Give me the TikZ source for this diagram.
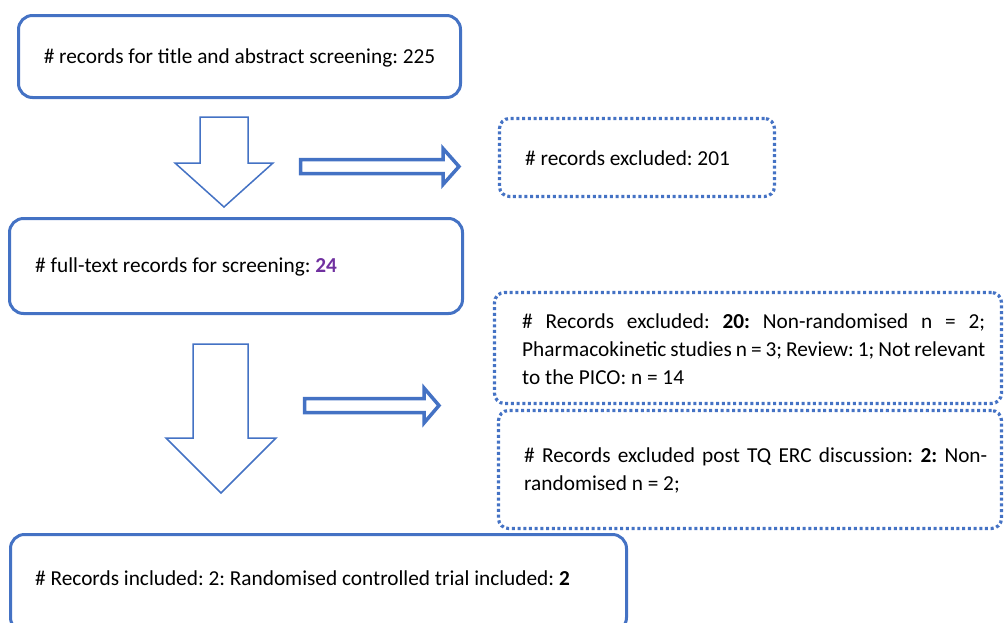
\documentclass[tikz,border=0pt]{standalone}
\usepackage{fontspec}
\setmainfont{Carlito}
\definecolor{obl}{HTML}{4472C4}
\definecolor{opur}{HTML}{7030A0}
\begin{document}
\frenchspacing
\hyphenpenalty=10000
\begin{tikzpicture}[x=1pt,y=-1pt,
 solidbox/.style={draw=obl, line width=3pt, rounded corners=14pt, inner sep=0pt},
 dotbox/.style={draw=obl, line width=3.2pt, dash pattern=on 3pt off 2.7pt, rounded corners=10pt, inner sep=0pt},
 txt/.style={font=\fontsize{21.3}{28}\selectfont, inner sep=0pt},
 thinarrow/.style={draw=obl, line width=1.5pt, fill=white, line join=miter},
 thickarrow/.style={draw=obl, line width=3.5pt, fill=white, line join=miter},
]
\useasboundingbox (0,0) rectangle (1005,622);
\clip (0,0) rectangle (1005,622);

% boxes
\node[solidbox, minimum width=442, minimum height=82] (b1) at (239.5,56.5) {};
\node[dotbox, minimum width=275, minimum height=78] (e1) at (637,157.5) {};
\node[solidbox, minimum width=453, minimum height=95] (b2) at (236,266) {};
\node[dotbox, minimum width=507, minimum height=111] (e2) at (748,348) {};
\node[dotbox, minimum width=503, minimum height=118] (e3) at (750,469.5) {};
\node[solidbox, minimum width=616, minimum height=97] (b3) at (318.5,583) {};

% texts
\node[txt, anchor=base] (t1) at (239.5,63) {\# records for title and abstract screening: 225};
\node[txt, anchor=base west] (te1) at (525,165) {\# records excluded: 201};
\node[txt, anchor=base west] (t2) at (35,272) {\# full-text records for screening: \textbf{\color{opur}24}};
\node[txt, anchor=north west, text width=463pt, align=justify] (te2) at (522,314)
 {\# Records excluded: \textbf{20:} Non-randomised n = 2;\linebreak Pharmacokinetic studies n = 3; Review: 1; Not relevant\linebreak to the PICO: n = 14};
\node[txt, anchor=north west, text width=463pt, align=justify] (te3) at (524,448)
 {\# Records excluded post TQ ERC discussion: \textbf{2:} Non-\linebreak randomised n = 2;};
\node[txt, anchor=base west] (t3) at (35,585) {\# Records included: 2: Randomised controlled trial included: \textbf{2}};

% block arrows
\draw[thinarrow] (200,117) -- (248,117) -- (248,163) -- (273,163) -- (224,207) -- (175,163) -- (200,163) -- cycle;
\draw[thickarrow] (300.5,159.5) -- (443,159.5) -- (443,148.5) -- (459,166.5) -- (443,184.5) -- (443,173.5) -- (300.5,173.5) -- cycle;
\draw[thinarrow] (193,344) -- (248,344) -- (248,438) -- (276,438) -- (221,493) -- (166,438) -- (193,438) -- cycle;
\draw[thickarrow] (304.5,398.5) -- (424,398.5) -- (424,388) -- (439,405.5) -- (424,423) -- (424,412.5) -- (304.5,412.5) -- cycle;
\end{tikzpicture}
\end{document}
